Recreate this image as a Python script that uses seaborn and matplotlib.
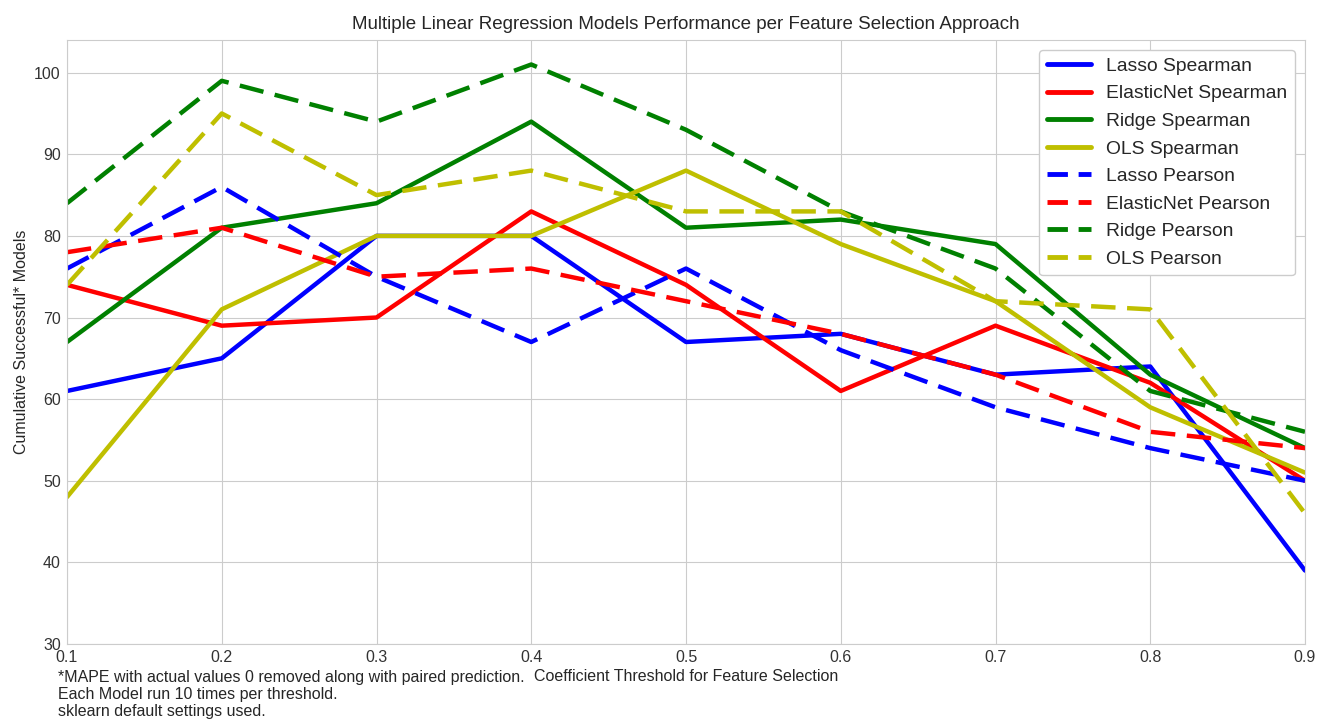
import matplotlib
matplotlib.use("Agg")
import matplotlib.pyplot as plt
import seaborn as sns
import pandas as pd

thresholds = [0.1, 0.2, 0.3, 0.4, 0.5, 0.6, 0.7, 0.8, 0.9]
lasso_spearman = [61, 65, 80, 80, 67, 68, 63, 64, 39]
elasticnet_spearman = [74, 69, 70, 83, 74, 61, 69, 62, 50]
ridge_spearman = [67, 81, 84, 94, 81, 82, 79, 63, 54]
ols_spearman = [48, 71, 80, 80, 88, 79, 72, 59, 51]
lasso_pearson = [76, 86, 75, 67, 76, 66, 59, 54, 50]
elasticnet_pearson = [78, 81, 75, 76, 72, 68, 63, 56, 54]
ridge_pearson = [84, 99, 94, 101, 93, 83, 76, 61, 56]
ols_pearson = [74, 95, 85, 88, 83, 83, 72, 71, 46]

series = [
    ("Lasso Spearman", lasso_spearman, "b", "-"),
    ("ElasticNet Spearman", elasticnet_spearman, "r", "-"),
    ("Ridge Spearman", ridge_spearman, "g", "-"),
    ("OLS Spearman", ols_spearman, "y", "-"),
    ("Lasso Pearson", lasso_pearson, "b", "--"),
    ("ElasticNet Pearson", elasticnet_pearson, "r", "--"),
    ("Ridge Pearson", ridge_pearson, "g", "--"),
    ("OLS Pearson", ols_pearson, "y", "--"),
]

sns.set_style("whitegrid")
plt.rcParams['font.family'] = ['Liberation Sans', 'DejaVu Sans']

fig = plt.figure(figsize=(13.24, 7.22), dpi=100)
ax = fig.add_axes([67/1324, 1 - 644/722, (1305-67)/1324, (644-40)/722])

for name, vals, color, ls in series:
    df = pd.DataFrame({"x": thresholds, "y": vals})
    line = sns.lineplot(data=df, x="x", y="y", ax=ax, color=color,
                        linewidth=3.2, label=name).lines[-1]
    if ls == "--":
        line.set_dashes((5.5, 2.6))

ax.set_xlim(0.1, 0.9)
ax.set_ylim(30, 104)
ax.set_yticks([30, 40, 50, 60, 70, 80, 90, 100])
ax.set_xticks(thresholds)
ax.set_xticklabels([f"{t:.1f}" for t in thresholds])
ax.tick_params(labelsize=11.5, colors="#333333", pad=1)
ax.set_title("Multiple Linear Regression Models Performance per Feature Selection Approach",
             fontsize=13.5, color="#262626", pad=8)
ax.set_xlabel("Coefficient Threshold for Feature Selection", fontsize=11.5, color="#262626", labelpad=3)
ax.set_ylabel("Cumulative Successful* Models", fontsize=11.5, color="#262626")
for s in ax.spines.values():
    s.set_edgecolor("#cccccc")
leg = ax.legend(loc="upper right", fontsize=13.9, frameon=True, framealpha=1,
                handlelength=2.3, labelspacing=0.52)
leg.get_frame().set_edgecolor("#cccccc")
for h in leg.get_lines():
    h.set_linewidth(3.5)
    if h.get_linestyle() != "-":
        h.set_dashes((4.2, 2.2))

fig.text(58/1324, 1 - 670/722,
         "*MAPE with actual values 0 removed along with paired prediction.\n"
         "Each Model run 10 times per threshold.\n"
         "sklearn default settings used.",
         fontsize=11.5, color="#262626", va="top", ha="left", linespacing=1.18)

fig.savefig("out.png", dpi=100)
